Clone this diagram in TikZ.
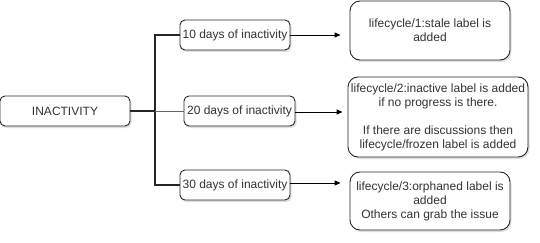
\documentclass[tikz,border=0pt]{standalone}
\usepackage{fontspec}
\setmainfont{Liberation Sans}
\usetikzlibrary{arrows.meta,shadows}
\begin{document}
\begin{tikzpicture}[x=1pt,y=-1pt,
  box/.style={draw=black!85, line width=0.9pt, rounded corners=5pt, fill=white,
    drop shadow={shadow xshift=1.5pt, shadow yshift=-2pt, opacity=0.25, fill=gray},
    inner sep=0pt, align=center, font=\fontsize{12}{14}\selectfont, text=black!80},
  bigbox/.style={box, rounded corners=10pt},
  trunkline/.style={line width=2pt, black!85},
  arr/.style={line width=0.9pt, -{Triangle[length=6pt,width=5pt]}, shorten >=9pt}
]
\useasboundingbox (0,0) rectangle (540,243);
\node[box, minimum width=130pt, minimum height=30pt] (in) at (65,111) {INACTIVITY};
\node[box, minimum width=110pt, minimum height=30pt] (b1) at (235,35) {10 days of inactivity};
\node[box, minimum width=111pt, minimum height=30pt] (b2) at (239.5,111) {20 days of inactivity};
\node[box, minimum width=110pt, minimum height=30pt] (b3) at (235,185) {30 days of inactivity};
\node[bigbox, minimum width=160pt, minimum height=59pt] (r1) at (430,30.5) {lifecycle/1:stale label is\\added};
\node[bigbox, minimum width=180pt, minimum height=80pt] (r2) at (438,117) {lifecycle/2:inactive label is added\\if no progress is there.\\[14pt]If there are discussions then\\lifecycle/frozen label is added};
\node[bigbox, minimum width=160pt, minimum height=58pt] (r3) at (430,201) {lifecycle/3:orphaned label is\\added\\Others can grab the issue};
\coordinate (j) at (155,111);
\draw[trunkline] (in.east) -- (j);
\draw[trunkline] (j) |- (b1.west);
\draw[trunkline] (j) |- (b3.west);
\draw[line width=0.9pt, black!60] (j) -- (b2.west);
\draw[arr] (b1.east) -- (b1.east -| r1.west);
\draw[arr, shorten >=5pt] ([yshift=-1pt]b2.east) -- ([yshift=-1pt]b2.east -| r2.west);
\draw[arr] ([yshift=2pt]b3.east) -- ([yshift=2pt]b3.east -| r3.west);
\end{tikzpicture}
\end{document}
